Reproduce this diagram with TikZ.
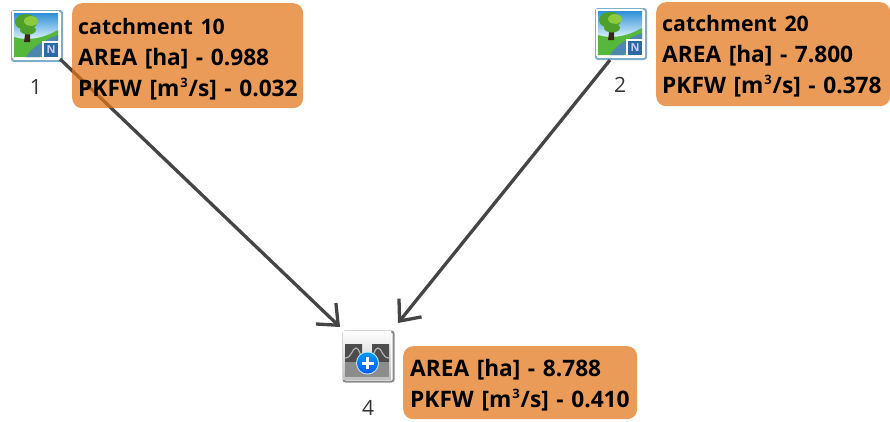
\documentclass[tikz,border=0pt]{standalone}
\usepackage{fontspec}
\setmainfont{Open Sans}
\usetikzlibrary{arrows.meta}
\definecolor{boxor}{HTML}{E27518}
\definecolor{lineg}{HTML}{454545}
\definecolor{frameb}{HTML}{7FAECB}
\definecolor{skytop}{HTML}{2F8FD8}
\definecolor{skybot}{HTML}{D8F0F8}
\definecolor{grass}{HTML}{55B83A}
\definecolor{river}{HTML}{4F86B0}
\definecolor{leafa}{HTML}{4FA02A}
\definecolor{leafb}{HTML}{8CCB3E}
\definecolor{badge}{HTML}{2B6AA5}
\newcommand{\supthree}{\kern1pt\raisebox{9pt}{\fontsize{13}{13}\selectfont 3}\kern1pt}
\newcommand{\ctitle}[1]{{\fontsize{21.3}{31}\selectfont #1}}
\tikzset{
  x=1pt,y=-1pt,
  infobox/.style={fill=boxor,fill opacity=0.72,text opacity=1,rounded corners=10pt,inner sep=0pt,anchor=north west,
    text width=#1,align=left,font=\fontsize{22.7}{31}\selectfont\bfseries,text=black},
  iconframe/.style={draw=#1,line width=2pt,rounded corners=2pt,minimum size=50pt,inner sep=0pt,anchor=north west},
  numlabel/.style={font=\fontsize{21}{24}\selectfont,text=black!80,anchor=center,inner sep=0pt},
  flow/.style={draw=lineg,line width=3.3pt,-{Straight Barb[length=17pt,width=29pt,line width=3.3pt]}},
  pics/land/.style={code={
    \fill[white] (0,0) rectangle (47,47);
    \shade[top color=skytop,bottom color=skybot] (2,2) rectangle (46,28);
    \fill[grass] (2,46) -- (2,26) .. controls (15,30) and (30,28) .. (46,19) -- (46,46) -- cycle;
    \fill[river] (14,46) .. controls (20,36) and (30,30) .. (46,24) -- (46,32) .. controls (36,35) and (30,40) .. (28,46) -- cycle;
    \fill[black!70!brown] (12,31) -- (14,17) -- (18,17) -- (18,31) -- cycle;
    \fill[leafa] (14,11) circle [x radius=11,y radius=8];
    \fill[leafb] (19,10) circle [x radius=7,y radius=5];
    \fill[leafa] (16,19) circle [x radius=8,y radius=4.5];
    \fill[white] (30,30) rectangle (47,47);
    \fill[badge] (32,32) rectangle (46,46);
    \node[font=\fontsize{11}{11}\selectfont\bfseries,text=white!80!blue,inner sep=0pt] at (39,39) {N};
  }},
  pics/junction/.style={code={
    \shade[top color=white,bottom color=black!25] (1,1) rectangle (49,49);
    \fill[black!70] (3,14) -- (20,14) -- (20,24) -- (30,24) -- (30,14) -- (47,14) -- (47,32) -- (3,32) -- cycle;
    \draw[black!30,line width=1.2pt] (3,28) .. controls (10,28) and (10,18) .. (14,18) .. controls (18,18) and (18,28) .. (22,30);
    \draw[black!30,line width=1.2pt] (28,30) .. controls (32,28) and (32,18) .. (36,18) .. controls (40,18) and (40,28) .. (47,28);
    \fill[black!45] (3,32) rectangle (47,47);
    \fill[white!75!cyan] (25.5,33) circle (11.5);
    \shade[top color=cyan!60!blue,bottom color=blue!65!cyan] (25.5,33) circle (10.5);
    \fill[white] (24,27) rectangle (27,39);
    \fill[white] (19.5,31.5) rectangle (31.5,34.5);
  }}
}
\begin{document}
\begin{tikzpicture}
\useasboundingbox (0,0) rectangle (890,421);
\node[iconframe=frameb] (n1) at (11,10) {};
\node[iconframe=frameb] (n2) at (595,8) {};
\node[iconframe=black!45] (n4) at (342.5,330.5) {};
\coordinate (tip1) at (340,327);
\coordinate (tip2) at (398,323);
\draw[flow] ([shift={(-3pt,3pt)}]n1.south east) -- (tip1);
\draw[flow] ([xshift=-37pt]n2.south east) -- (tip2);
\pic at (12,11) {land};
\pic at (596,9) {land};
\pic at (342,330) {junction};
\node[numlabel] (l1) at (36,87) {1};
\node[numlabel] (l2) at (620,85) {2};
\node[numlabel] (l4) at (368,408) {4};
\node[infobox=231pt,minimum height=105pt] (b1) at (72,3) {\rule{0pt}{24pt}\hspace*{6pt}\ctitle{catchment 10}\\\hspace*{6pt}AREA [ha] - 0.988\\\hspace*{6pt}PKFW [m\supthree/s] - 0.032};
\node[infobox=234pt,minimum height=104pt] (b2) at (656,2) {\rule{0pt}{21pt}\hspace*{6pt}\ctitle{catchment 20}\\\hspace*{6pt}AREA [ha] - 7.800\\\hspace*{6pt}PKFW [m\supthree/s] - 0.378};
\node[infobox=234pt,minimum height=73pt] (b4) at (403,346) {\rule{0pt}{23pt}\hspace*{7pt}AREA [ha] - 8.788\\\hspace*{7pt}PKFW [m\supthree/s] - 0.410};
\end{tikzpicture}
\end{document}
